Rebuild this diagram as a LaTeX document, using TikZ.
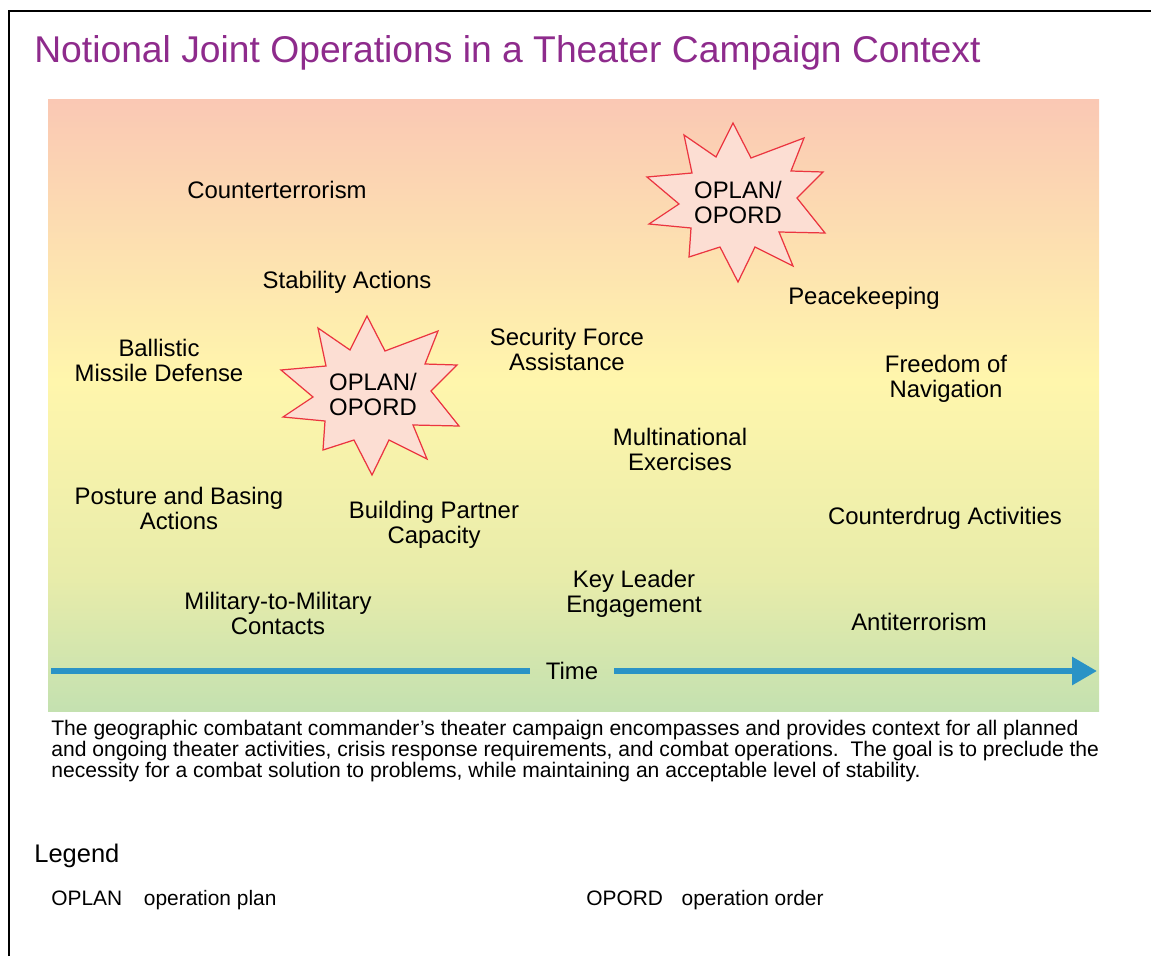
\documentclass[tikz,border=0pt]{standalone}
\usepackage{fontspec}
\setmainfont{Liberation Sans}
\usepackage{xcolor}
\usetikzlibrary{arrows.meta, positioning}

\definecolor{titlepurple}{HTML}{8E2B8C}
\definecolor{timeblue}{HTML}{2A93C6}
\definecolor{burstred}{HTML}{EB3540}
\definecolor{burstfill}{HTML}{FCDED3}
\definecolor{bandpeach}{RGB}{250,200,180}
\definecolor{bandorange}{RGB}{253,226,176}
\definecolor{bandyellow}{RGB}{255,246,172}
\definecolor{bandlime}{RGB}{232,236,170}
\definecolor{bandgreen}{RGB}{196,225,176}

\pgfdeclareverticalshading{campaignband}{100bp}{color(0bp)=(bandgreen); color(25bp)=(bandgreen); color(36bp)=(bandlime); color(52bp)=(bandyellow); color(62bp)=(bandorange); color(75bp)=(bandpeach); color(100bp)=(bandpeach)}

\begin{document}
\begin{tikzpicture}[
    x=0.02cm, y=-0.02cm,
    heading/.style={font=\fontsize{21.2}{25}\selectfont, text=titlepurple, inner sep=0pt, anchor=base west},
    op/.style={font=\fontsize{13.6}{14.2}\selectfont, align=center, inner sep=0pt},
    burstline/.style={draw=burstred, fill=burstfill, line width=0.7pt, line join=miter},
    burst/.pic={\path[burstline] (-4,-80) -- (14,-45) -- (67,-65) -- (54,-32) -- (86,-31) -- (60,-5) -- (88,30) -- (42,29) -- (56,63) -- (18,44) -- (1,79) -- (-17,44) -- (-48,54) -- (-46,25) -- (-88,21) -- (-58,1) -- (-90,-26) -- (-45,-30) -- (-53,-68) -- (-21,-46) -- cycle;},
    timeline/.style={timeblue, line width=3.4pt},
    body/.style={font=\fontsize{12}{11.9}\selectfont, align=left, inner sep=0pt, anchor=base west},
    key/.style={font=\fontsize{11.9}{14}\selectfont, inner sep=0pt, anchor=base west}
]
\useasboundingbox (0,0) rectangle (1151,956);

% Frame and title
\draw[line width=1.4pt] (9,956) -- (9,11) -- (1151,11);
\node[heading] (title) at (34,63) {Notional Joint Operations in a Theater Campaign Context};

% Campaign band
\shade[shading=campaignband] (48,100) rectangle (1099,711);

% Plans
\pic at (737,203) {burst};
\pic at (371,396) {burst};
\node[op] (plan1) at (738,202) {OPLAN/\\OPORD};
\node[op] (plan2) at (373,394) {OPLAN/\\OPORD};

% Activities
\node[op] (ct) at (277,190) {Counterterrorism};
\node[op] (stab) at (347,282) {Stability Actions};
\node[op] (bmd) at (159,360) {Ballistic\\Missile Defense};
\node[op] (sfa) at (567,349) {Security Force\\Assistance};
\node[op] (pk) at (864,298) {Peacekeeping};
\node[op] (fon) at (946,379) {Freedom of\\Navigation};
\node[op] (mne) at (680,449) {Multinational\\Exercises};
\node[op] (pba) at (179,508) {Posture and Basing\\Actions};
\node[op] (bpc) at (434,525) {Building Partner\\Capacity};
\node[op] (cd) at (945,518) {Counterdrug Activities};
\node[op] (kle) at (634,594) {Key Leader\\Engagement};
\node[op] (m2m) at (278,613) {Military-to-Military\\Contacts};
\node[op] (at) at (919,622) {Antiterrorism};

% Time axis
\node[op, inner xsep=9pt] (time) at (572,671) {Time};
\coordinate (tstart) at (51,671);
\coordinate (tend) at (1097,671);
\draw[timeline] (tstart) -- (time);
\draw[timeline, -{Triangle[length=0.5cm, width=0.54cm]}] (time) -- (tend);

% Caption
\node[body] (caption) at (51,777) {The geographic combatant commander’s theater campaign encompasses and provides context for all planned\\and ongoing theater activities, crisis response requirements, and combat operations.\ \ The goal is to preclude the\\necessity for a combat solution to problems, while maintaining an acceptable level of stability.};

% Legend
\node[key, font=\fontsize{14.5}{17}\selectfont] (legend) at (34,862) {Legend};
\node[key] (oplan) at (51,905) {OPLAN};
\node[key, base right=0.42cm of oplan] (oplantext) {operation plan};
\node[key] (opord) at (586,905) {OPORD};
\node[key, base right=0.36cm of opord] (opordtext) {operation order};
\end{tikzpicture}
\end{document}
